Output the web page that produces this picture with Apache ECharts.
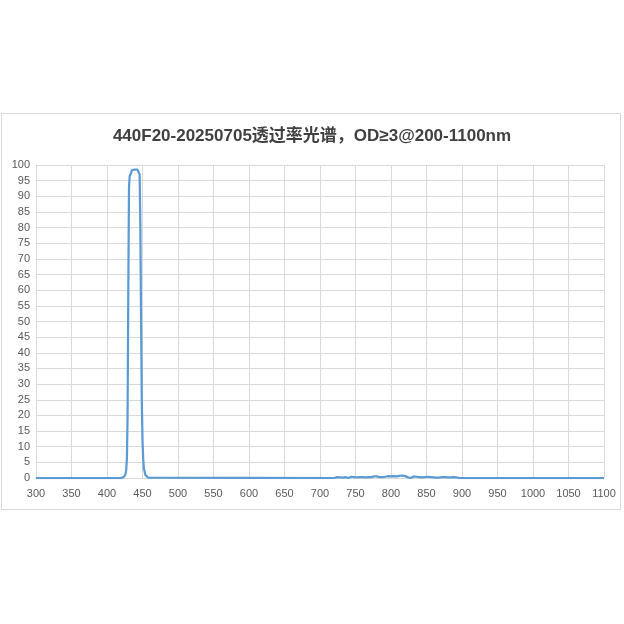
<!DOCTYPE html>
<html><head><meta charset="utf-8">
<script src="https://cdn.jsdelivr.net/npm/echarts@6/dist/echarts.min.js"></script>
<style>html,body{margin:0;padding:0;background:#fff}#c{width:624px;height:624px}
#box{position:absolute;left:1px;top:113px;width:620px;height:397px;border:1px solid #d9d9d9;box-sizing:border-box;pointer-events:none}</style>
</head><body><div id="c"></div><div id="box"></div>
<script>
const titleText = '440F20-20250705透过率光谱，OD≥3@200-1100nm';
const xTicks = [300,350,400,450,500,550,600,650,700,750,800,850,900,950,1000,1050,1100];
const yTicks = [0,5,10,15,20,25,30,35,40,45,50,55,60,65,70,75,80,85,90,95,100];
// passband region
const bandNm =  [300,420,422,424,426,427,428,429,430,431,432,433,434,435,437,439,441,443,445,446,447,448,449,450,451,452,454,456,458,460,720];
const bandT =   [0,0,0.1,0.4,1.2,2.5,6,20,60,93,96.5,97,97.5,98.4,98.6,98.5,98.7,98.5,98.6,97,80,50,25,12,6,3,1,0.4,0.1,0,0];
// noise region (NIR)
const noiseNm = [722,724,726,728,730,732,734,736,738,740,742,744,746,748,750,752,754,756,758,760,762,764,766,768,770,772,774,776,778,780,782,784,786,788,790,792,794,796,798,800,802,804,806,808,810,812,814,816,818,820,822,824,826,828,830,832,834,836,838,840,842,844,846,848,850,852,854,856,858,860,862,864,866,868,870,872,874,876,878,880,882,884,886,888,890,892,894,896];
const noiseT =  [0.1,0.3,0.1,0.2,0.4,0.1,0,0.3,0.1,0,0.2,0.4,0.2,0.3,0.5,0.2,0.4,0.3,0.5,0.3,0.4,0.2,0.5,0.3,0.5,0.3,0.4,0.5,0.2,0.5,0.4,0.3,0.5,0.3,0.6,0.4,0.5,0.6,0.3,0.5,0.3,0.6,0.4,0.5,0.4,0.7,0.5,0.8,0.4,0.6,0.4,0.2,0.1,0,0.3,0.5,0.2,0.4,0.5,0.3,0.4,0.2,0.5,0.3,0.2,0.4,0.1,0.3,0.4,0.2,0.3,0.1,0.3,0.1,0.2,0.3,0.1,0.3,0.4,0.2,0.1,0.2,0.1,0.3,0.1,0.2,0,0];
const tailNm = [900,1100];
const tailT = [0,0];

const data = [];
bandNm.forEach((x,i)=>data.push([x,bandT[i]]));
noiseNm.forEach((x,i)=>data.push([x,noiseT[i]]));
tailNm.forEach((x,i)=>data.push([x,tailT[i]]));

const chart = echarts.init(document.getElementById('c'));
chart.setOption({
  animation:false,
  backgroundColor:'#fff',
  title:{text:titleText,left:'center',top:123,textStyle:{fontFamily:'"Liberation Sans","Noto Sans CJK SC",sans-serif',fontWeight:'bold',fontSize:17,color:'#404040'}},
  grid:{left:36,right:20,top:165,bottom:146},
  xAxis:{type:'value',min:300,max:1100,interval:50,
    axisLine:{show:false},axisTick:{show:false},
    axisLabel:{color:'#595959',fontSize:11,fontFamily:'"Liberation Sans",sans-serif',margin:10,formatter:v=>String(v)},
    splitLine:{show:true,lineStyle:{color:'#d9d9d9',width:1}}},
  yAxis:{type:'value',min:0,max:100,interval:5,
    axisLine:{show:true,lineStyle:{color:'#d9d9d9'}},axisTick:{show:false},
    axisLabel:{color:'#595959',fontSize:11,fontFamily:'"Liberation Sans",sans-serif',margin:6,formatter:v=>String(v)},
    splitLine:{show:true,lineStyle:{color:'#d9d9d9',width:1}}},
  series:[{type:'line',data:data,showSymbol:false,smooth:false,
    lineStyle:{color:'#5b9bd5',width:2.25},itemStyle:{color:'#5b9bd5'}}]
});
</script></body></html>
